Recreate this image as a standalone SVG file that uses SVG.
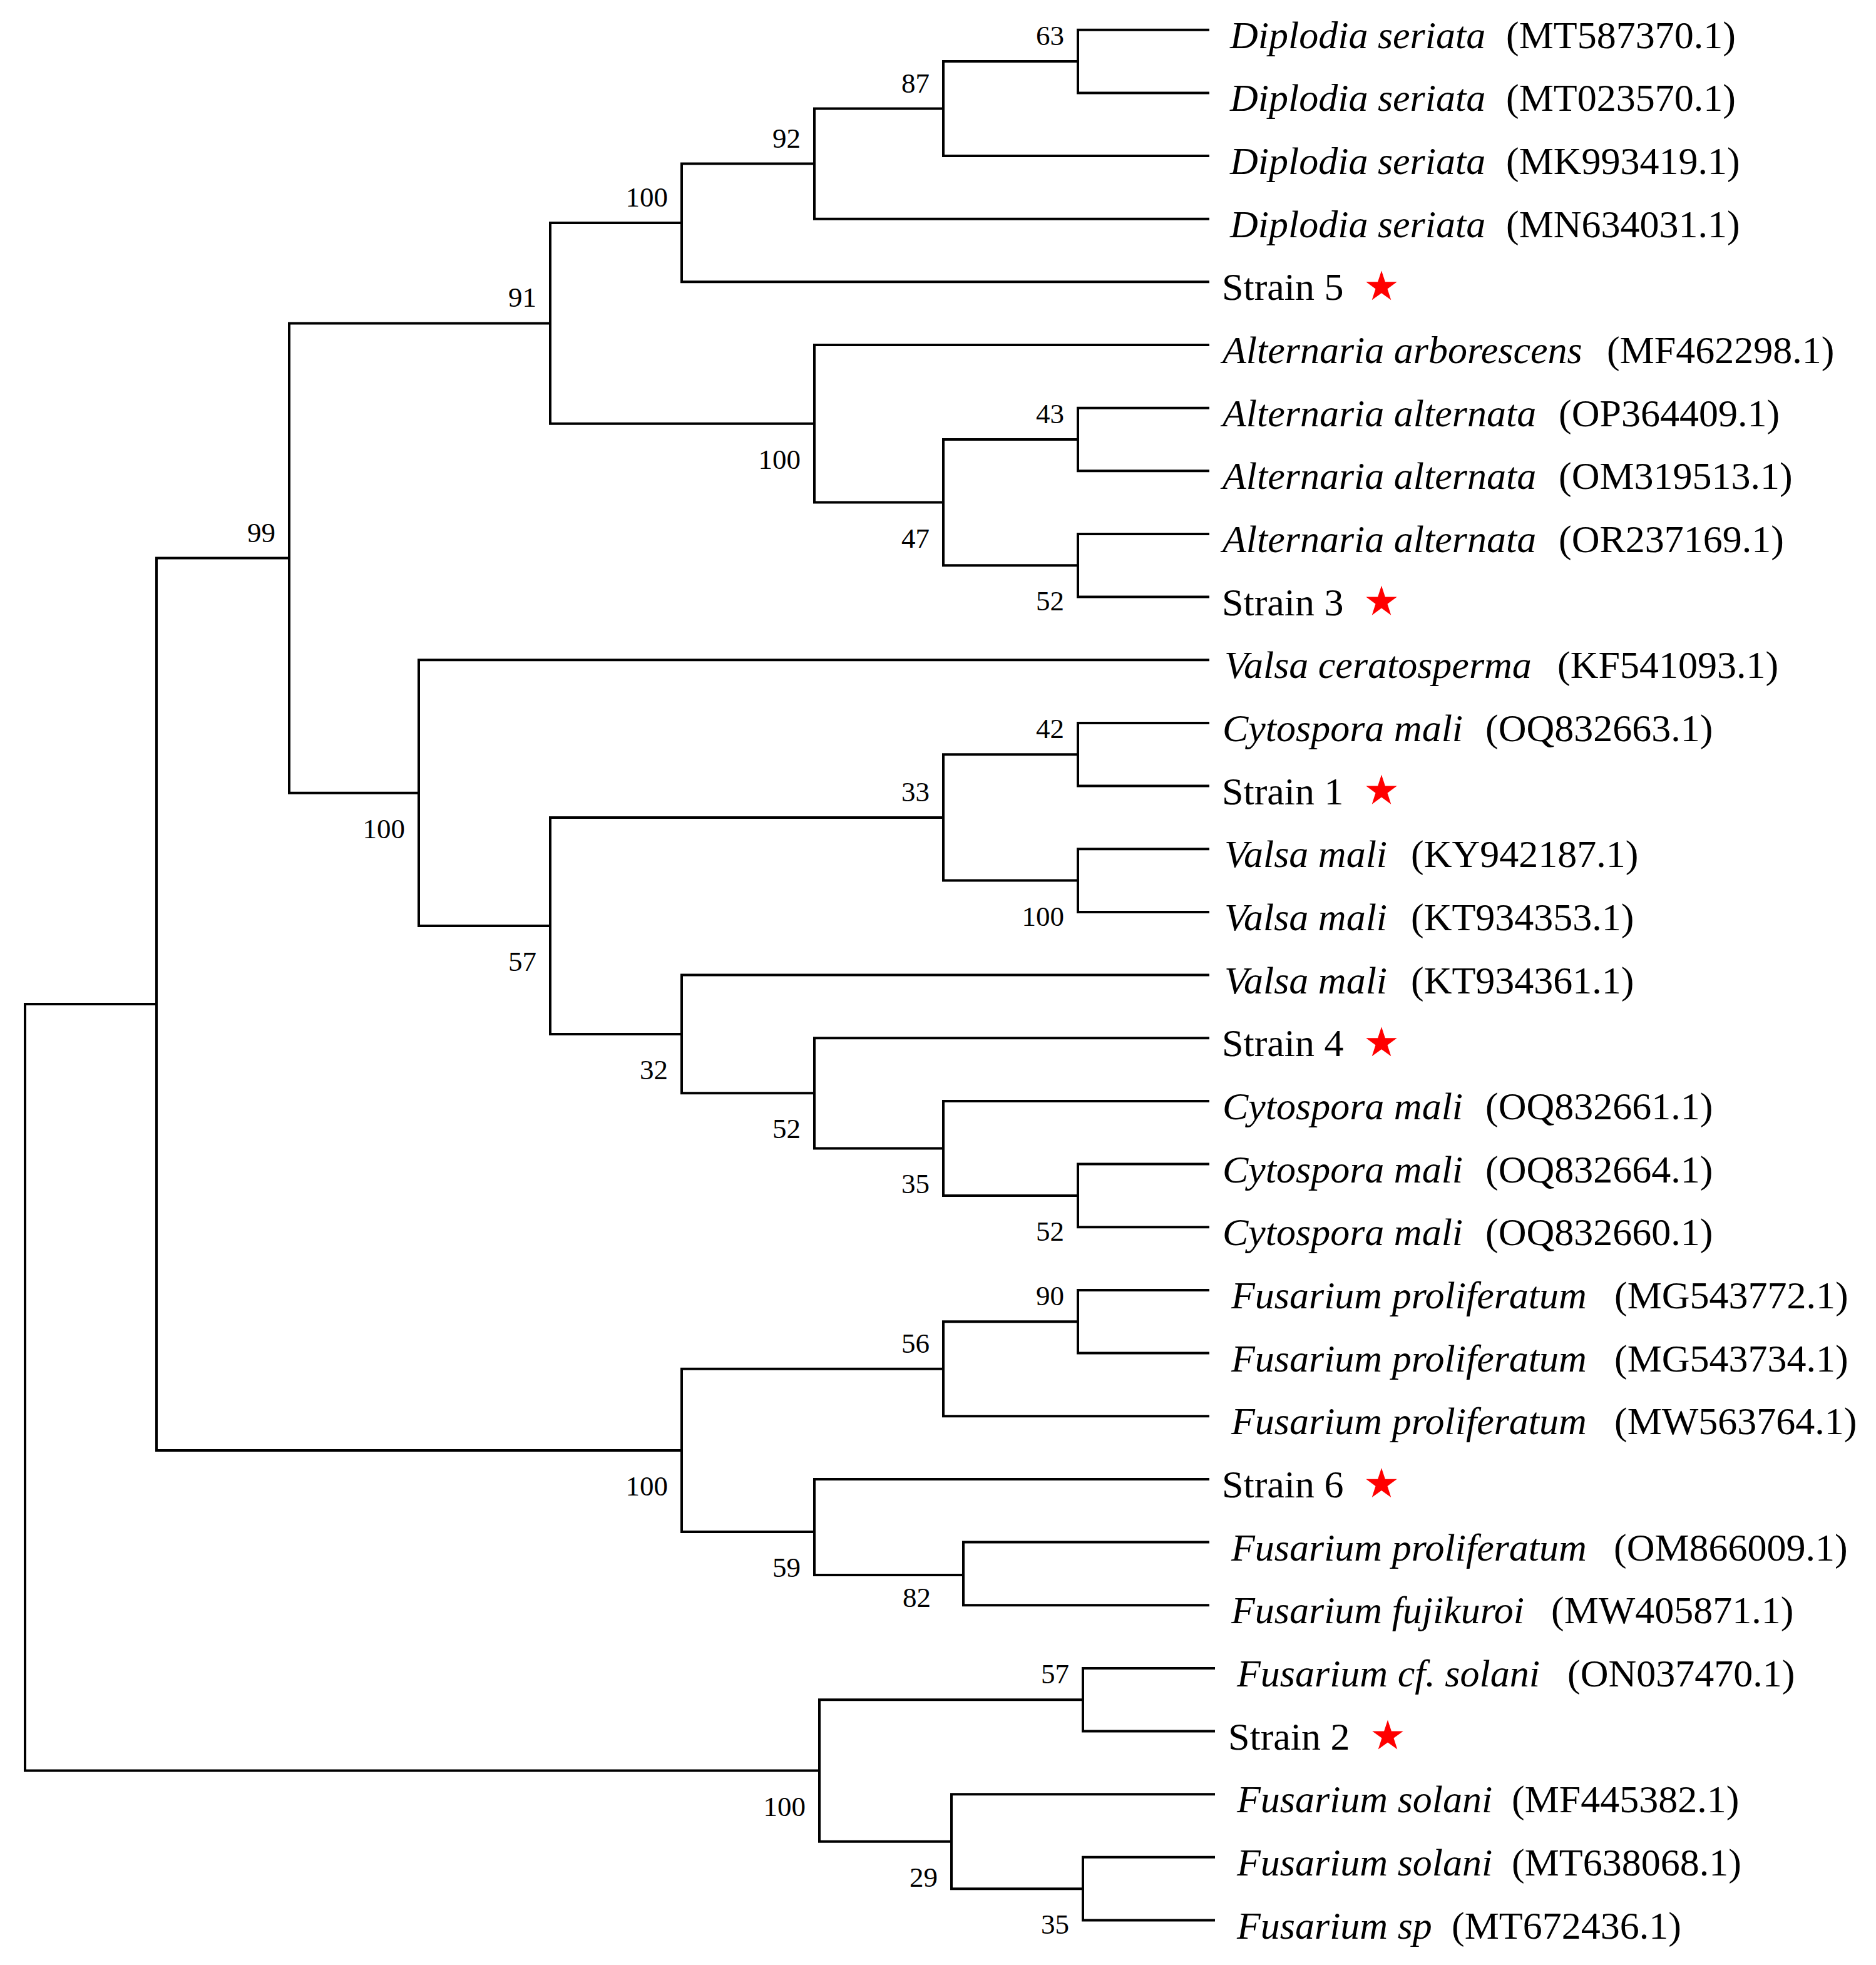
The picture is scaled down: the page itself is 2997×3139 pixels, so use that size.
<svg xmlns="http://www.w3.org/2000/svg" xmlns:xlink="http://www.w3.org/1999/xlink" width="2997" height="3139" viewBox="0 0 2997 3139">
<style>
.br{fill:none;stroke:#000;stroke-width:4;stroke-linejoin:miter}
.bs{font-family:"Liberation Serif","Times New Roman",serif;font-size:45px;text-anchor:end;fill:#000}
.lf{font-family:"Liberation Serif","Times New Roman",serif;font-size:62px;fill:#000}
.sp{font-style:italic}
.star{fill:#ff0000}
</style>
<defs>
<polygon id="star" class="star" points="0,-26 5.88,-8.09 24.73,-8.03 9.51,3.09 15.28,21.03 0,10 -15.28,21.03 -9.51,3.09 -24.73,-8.03 -5.88,-8.09"/>
</defs>
<rect width="2997" height="3139" fill="#fff"/>
<g id="connectors" class="br">
<path d="M250 1604H40V2828.5H1309"/>
<path d="M462 891.5H250V2317H1089"/>
<path d="M879 516.4H462V1266.7H669"/>
<path d="M1089 356H879V676.8H1301"/>
<path d="M1301 261.6H1089V450.3H1932"/>
<path d="M1507 173.5H1301V349.7H1932"/>
<path d="M1722 98H1507V249H1932"/>
<path d="M1932 47.7H1722V148.4H1932"/>
<path d="M1932 551H1301V802.6H1507"/>
<path d="M1722 702H1507V903.3H1722"/>
<path d="M1932 651.7H1722V752.3H1932"/>
<path d="M1932 853H1722V953.6H1932"/>
<path d="M1932 1054.3H669V1479H879"/>
<path d="M1507 1306H879V1652H1089"/>
<path d="M1722 1205.3H1507V1406.6H1722"/>
<path d="M1932 1155H1722V1255.6H1932"/>
<path d="M1932 1356.3H1722V1456.9H1932"/>
<path d="M1932 1557.6H1089V1746.3H1301"/>
<path d="M1932 1658.3H1301V1834.4H1507"/>
<path d="M1932 1758.9H1507V1909.9H1722"/>
<path d="M1932 1859.6H1722V1960.2H1932"/>
<path d="M1507 2186.7H1089V2447H1301"/>
<path d="M1722 2111.2H1507V2262.2H1932"/>
<path d="M1932 2060.9H1722V2161.6H1932"/>
<path d="M1932 2362.9H1301V2516H1539"/>
<path d="M1932 2463.5H1539V2564.2H1932"/>
<path d="M1730 2715.2H1309V2941.7H1520"/>
<path d="M1941 2664.9H1730V2765.5H1941"/>
<path d="M1941 2866.2H1520V3017.2H1730"/>
<path d="M1941 2966.8H1730V3067.5H1941"/>
</g>
<g id="bootstrap" class="bs">
<text x="1700" y="72">63</text>
<text x="1485" y="147.5">87</text>
<text x="1279" y="235.6">92</text>
<text x="1067" y="330">100</text>
<text x="857" y="490.4">91</text>
<text x="440" y="865.5">99</text>
<text x="1700" y="676">43</text>
<text x="1700" y="1179.3">42</text>
<text x="1485" y="1280">33</text>
<text x="1700" y="2085.2">90</text>
<text x="1485" y="2160.7">56</text>
<text x="1708" y="2689">57</text>
<text x="1279" y="748.8">100</text>
<text x="1485" y="874.6">47</text>
<text x="1700" y="975.3">52</text>
<text x="647" y="1338.7">100</text>
<text x="857" y="1551">57</text>
<text x="1700" y="1478.6">100</text>
<text x="1067" y="1724">32</text>
<text x="1279" y="1818.3">52</text>
<text x="1485" y="1906.4">35</text>
<text x="1700" y="1981.9">52</text>
<text x="1067" y="2389">100</text>
<text x="1279" y="2519">59</text>
<text x="1487" y="2567">82</text>
<text x="1287" y="2900.5">100</text>
<text x="1498" y="3013.7">29</text>
<text x="1708" y="3089.2">35</text>
</g>
<g id="leaf-0"><text class="lf" x="1965" y="76.7"><tspan class="sp">Diplodia seriata</tspan><tspan x="2406">(MT587370.1)</tspan></text></g>
<g id="leaf-1"><text class="lf" x="1965" y="177.4"><tspan class="sp">Diplodia seriata</tspan><tspan x="2406">(MT023570.1)</tspan></text></g>
<g id="leaf-2"><text class="lf" x="1965" y="278"><tspan class="sp">Diplodia seriata</tspan><tspan x="2406">(MK993419.1)</tspan></text></g>
<g id="leaf-3"><text class="lf" x="1965" y="378.7"><tspan class="sp">Diplodia seriata</tspan><tspan x="2406">(MN634031.1)</tspan></text></g>
<g id="leaf-4"><text class="lf" x="1952" y="479.3">Strain 5</text><use xlink:href="#star" href="#star" x="2207" y="458.3"/></g>
<g id="leaf-5"><text class="lf" x="1953" y="580"><tspan class="sp">Alternaria arborescens</tspan><tspan x="2567">(MF462298.1)</tspan></text></g>
<g id="leaf-6"><text class="lf" x="1953" y="680.7"><tspan class="sp">Alternaria alternata</tspan><tspan x="2490">(OP364409.1)</tspan></text></g>
<g id="leaf-7"><text class="lf" x="1953" y="781.3"><tspan class="sp">Alternaria alternata</tspan><tspan x="2490">(OM319513.1)</tspan></text></g>
<g id="leaf-8"><text class="lf" x="1953" y="882"><tspan class="sp">Alternaria alternata</tspan><tspan x="2490">(OR237169.1)</tspan></text></g>
<g id="leaf-9"><text class="lf" x="1952" y="982.6">Strain 3</text><use xlink:href="#star" href="#star" x="2207" y="961.6"/></g>
<g id="leaf-10"><text class="lf" x="1956" y="1083.3"><tspan class="sp">Valsa ceratosperma</tspan><tspan x="2488">(KF541093.1)</tspan></text></g>
<g id="leaf-11"><text class="lf" x="1953" y="1184"><tspan class="sp">Cytospora mali</tspan><tspan x="2373">(OQ832663.1)</tspan></text></g>
<g id="leaf-12"><text class="lf" x="1952" y="1284.6">Strain 1</text><use xlink:href="#star" href="#star" x="2207" y="1263.6"/></g>
<g id="leaf-13"><text class="lf" x="1956" y="1385.3"><tspan class="sp">Valsa mali</tspan><tspan x="2254">(KY942187.1)</tspan></text></g>
<g id="leaf-14"><text class="lf" x="1956" y="1485.9"><tspan class="sp">Valsa mali</tspan><tspan x="2254">(KT934353.1)</tspan></text></g>
<g id="leaf-15"><text class="lf" x="1956" y="1586.6"><tspan class="sp">Valsa mali</tspan><tspan x="2254">(KT934361.1)</tspan></text></g>
<g id="leaf-16"><text class="lf" x="1952" y="1687.3">Strain 4</text><use xlink:href="#star" href="#star" x="2207" y="1666.3"/></g>
<g id="leaf-17"><text class="lf" x="1953" y="1787.9"><tspan class="sp">Cytospora mali</tspan><tspan x="2373">(OQ832661.1)</tspan></text></g>
<g id="leaf-18"><text class="lf" x="1953" y="1888.6"><tspan class="sp">Cytospora mali</tspan><tspan x="2373">(OQ832664.1)</tspan></text></g>
<g id="leaf-19"><text class="lf" x="1953" y="1989.2"><tspan class="sp">Cytospora mali</tspan><tspan x="2373">(OQ832660.1)</tspan></text></g>
<g id="leaf-20"><text class="lf" x="1967" y="2089.9"><tspan class="sp">Fusarium proliferatum</tspan><tspan x="2579">(MG543772.1)</tspan></text></g>
<g id="leaf-21"><text class="lf" x="1967" y="2190.6"><tspan class="sp">Fusarium proliferatum</tspan><tspan x="2579">(MG543734.1)</tspan></text></g>
<g id="leaf-22"><text class="lf" x="1967" y="2291.2"><tspan class="sp">Fusarium proliferatum</tspan><tspan x="2579">(MW563764.1)</tspan></text></g>
<g id="leaf-23"><text class="lf" x="1952" y="2391.9">Strain 6</text><use xlink:href="#star" href="#star" x="2207" y="2370.9"/></g>
<g id="leaf-24"><text class="lf" x="1967" y="2492.5"><tspan class="sp">Fusarium proliferatum</tspan><tspan x="2578">(OM866009.1)</tspan></text></g>
<g id="leaf-25"><text class="lf" x="1967" y="2593.2"><tspan class="sp">Fusarium fujikuroi</tspan><tspan x="2478">(MW405871.1)</tspan></text></g>
<g id="leaf-26"><text class="lf" x="1976" y="2693.9"><tspan class="sp">Fusarium cf. solani</tspan><tspan x="2504">(ON037470.1)</tspan></text></g>
<g id="leaf-27"><text class="lf" x="1962" y="2794.5">Strain 2</text><use xlink:href="#star" href="#star" x="2217" y="2773.5"/></g>
<g id="leaf-28"><text class="lf" x="1976" y="2895.2"><tspan class="sp">Fusarium solani</tspan><tspan x="2415">(MF445382.1)</tspan></text></g>
<g id="leaf-29"><text class="lf" x="1976" y="2995.8"><tspan class="sp">Fusarium solani</tspan><tspan x="2415">(MT638068.1)</tspan></text></g>
<g id="leaf-30"><text class="lf" x="1976" y="3096.5"><tspan class="sp">Fusarium sp</tspan><tspan x="2319">(MT672436.1)</tspan></text></g>
</svg>
